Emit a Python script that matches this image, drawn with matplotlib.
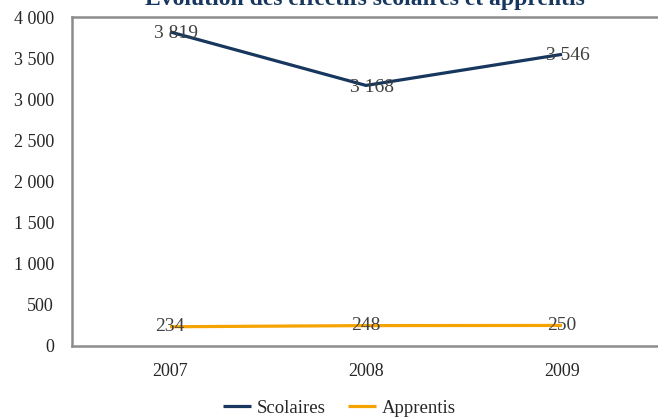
import matplotlib
matplotlib.use('Agg')
import matplotlib.pyplot as plt
from matplotlib.ticker import FuncFormatter

years = ['2007', '2008', '2009']
scolaires = [3819, 3168, 3546]
apprentis = [234, 248, 250]
yticks = [0, 500, 1000, 1500, 2000, 2500, 3000, 3500, 4000]

NAVY = '#17375E'
ORANGE = '#F5A300'
GRID = '#8C8C8C'

plt.rcParams['font.family'] = ['Liberation Serif', 'DejaVu Serif']


def fr(v):
    return f'{int(v):,}'.replace(',', ' ')


fig = plt.figure(figsize=(6.58, 4.17), dpi=100)
ax = fig.add_axes([72 / 658, 1 - 346 / 417, 588 / 658, 329 / 417])

x = list(range(len(years)))
ax.plot(x, scolaires, color=NAVY, lw=2.3, label='Scolaires', solid_capstyle='butt')
ax.plot(x, apprentis, color=ORANGE, lw=2.3, label='Apprentis', solid_capstyle='butt')

for xi, v in zip(x, scolaires):
    ax.text(xi + 0.03, v - 20, fr(v), ha='center', va='center', fontsize=14, color='#404040')
for xi, v in zip(x, apprentis):
    ax.text(xi, v, fr(v), ha='center', va='center', fontsize=14, color='#404040')

ax.set_xlim(-0.5, 2.5)
ax.set_ylim(0, 4000)
ax.set_xticks(x)
ax.set_xticklabels(years)
ax.set_yticks(yticks)
ax.yaxis.set_major_formatter(FuncFormatter(lambda v, p: fr(v)))
ax.tick_params(length=0, labelsize=13, colors='#262626')
ax.tick_params(axis='y', pad=13)
ax.tick_params(axis='x', pad=12)

for side in ['left', 'top', 'bottom']:
    ax.spines[side].set_color(GRID)
    ax.spines[side].set_linewidth(1.8)
ax.spines['right'].set_visible(False)

fig.text(0.555, 1 - 5 / 417, 'Évolution des effectifs scolaires et apprentis',
         ha='center', va='baseline', fontsize=17, fontweight='bold', color=NAVY)

fig.legend(loc='center', bbox_to_anchor=(0.516, 1 - 408 / 417), ncol=2, frameon=False,
           fontsize=13.5, handlelength=1.5, handletextpad=0.3, columnspacing=1.2,
           labelcolor='#262626')

fig.savefig('out.png', dpi=100)
